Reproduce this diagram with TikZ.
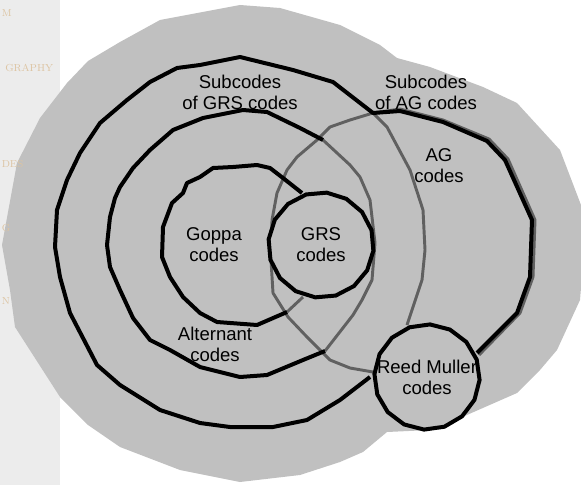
\documentclass[tikz,border=0pt]{standalone}
\usepackage{fontspec}
\setsansfont{Liberation Sans}
\usetikzlibrary{shapes.geometric}
\definecolor{blobgrey}{HTML}{C0C0C0}
\definecolor{fadegrey}{HTML}{606060}
\definecolor{sidebg}{HTML}{ECECEC}
\definecolor{sidetext}{HTML}{DDC4A2}

\begin{document}
\begin{tikzpicture}[x=0.75pt,y=-0.75pt]
    % Define styles
    \tikzstyle{setline} = [line width=3pt, line join=round, draw=black]
    \tikzstyle{fadedline} = [line width=2.2pt, line join=round, draw=fadegrey]
    \tikzstyle{codeset} = [regular polygon, regular polygon sides=16, minimum size=79pt,
                          inner sep=0pt, draw=black, line width=3pt, fill=blobgrey]
    \tikzstyle{setlabel} = [align=center, inner sep=0pt, font=\sffamily\fontsize{13.9}{15.75}\selectfont]
    \tikzstyle{sidelabel} = [anchor=base west, inner sep=0pt, text=sidetext, font=\fontsize{7.6}{9}\selectfont]

    \useasboundingbox (0,0) rectangle (581,485);

    % Sidebar
    \fill[sidebg] (0,0) rectangle (60,485);

    % Subcodes of AG codes (background blob)
    \fill[blobgrey] (40,118) -- (67,83) -- (88,61) -- (120,42) -- (160,20) -- (240,5) -- (280,8)
        -- (340,25) -- (380,45) -- (397,58) -- (430,67) -- (483,87) -- (517,103) -- (560,150)
        -- (581,205) -- (584,250) -- (580,300) -- (557,350) -- (540,370) -- (517,393) -- (460,418)
        -- (430,430) -- (387,432) -- (363,452) -- (340,462) -- (300,475) -- (240,482) -- (180,470)
        -- (120,447) -- (88,425) -- (60,397) -- (15,327) -- (10,290) -- (2,245) -- (17,163) -- cycle;

    % Sidebar labels
    \node[sidelabel] (navm) at (1.5,17) {M};
    \node[sidelabel] (navgraphy) at (5,72) {GRAPHY};
    \node[sidelabel] (navdes) at (1.5,167) {DES};
    \node[sidelabel] (navg) at (1.5,231) {G};
    \node[sidelabel] (navn) at (1.5,304) {N};

    % AG codes
    \draw[fadedline] (373,372) -- (350,368) -- (330,360) -- (307,337) -- (288,317) -- (273,293)
        -- (271,260) -- (272,220) -- (277,193) -- (287,170) -- (297,157) -- (317,140) -- (330,127)
        -- (350,120) -- (373,113) -- (400,109) -- (443,120) -- (489,139) -- (508,159) -- (535,220)
        -- (533,277) -- (520,313) -- (479,355);

    % Subcodes of GRS codes
    \draw[fadedline] (373,113) -- (387,127) -- (410,170) -- (423,210) -- (425,250) -- (422,280) -- (407,325);
    \draw[setline] (370,377) -- (340,400) -- (307,420) -- (273,427) -- (230,427) -- (200,423)
        -- (160,410) -- (120,385) -- (97,365) -- (70,313) -- (60,277) -- (55,247) -- (57,210)
        -- (67,180) -- (80,153) -- (100,123) -- (127,100) -- (150,82) -- (177,68) -- (200,65)
        -- (240,57) -- (293,70) -- (333,82) -- (373,113) -- (400,111) -- (443,122) -- (487,141)
        -- (505,160) -- (532,220) -- (530,277) -- (517,313) -- (477,353);

    % Alternant codes
    \draw[fadedline] (323,140) -- (350,165) -- (360,177) -- (370,200) -- (375,243) -- (372,280)
        -- (362,300) -- (353,315) -- (325,351);
    \draw[setline] (325,351) -- (303,360) -- (267,375) -- (240,377) -- (200,367) -- (170,350)
        -- (150,340) -- (133,318) -- (120,290) -- (110,267) -- (107,245) -- (110,217) -- (115,198)
        -- (120,187) -- (133,168) -- (150,150) -- (173,130) -- (203,118) -- (243,110) -- (267,112)
        -- (300,128) -- (323,140);

    % Goppa codes
    \draw[fadedline] (287,312) -- (303,297);
    \draw[setline] (302,193) -- (283,178) -- (270,168) -- (257,165) -- (233,167) -- (213,168)
        -- (200,177) -- (187,183) -- (183,193) -- (172,203) -- (163,227) -- (162,257) -- (170,277)
        -- (183,297) -- (200,313) -- (217,322) -- (257,325) -- (287,312);

    % GRS and Reed Muller codes
    \node[codeset, rotate=5] (grs) at (321,245) {};
    \node[codeset, rotate=8] (rm) at (427,377) {};

    % Labels
    \node[setlabel] (subgrs) at (240,92) {Subcodes\\of GRS codes};
    \node[setlabel] (subag) at (426,92) {Subcodes\\of AG codes};
    \node[setlabel] (ag) at (439,166) {AG\\codes};
    \node[setlabel] (goppa) at (214,245) {Goppa\\codes};
    \node[setlabel] (grslabel) at (grs) {GRS\\codes};
    \node[setlabel] (alternant) at (215,344) {Alternant\\codes};
    \node[setlabel] (rmlabel) at (rm) {Reed Muller\\codes};
\end{tikzpicture}
\end{document}
